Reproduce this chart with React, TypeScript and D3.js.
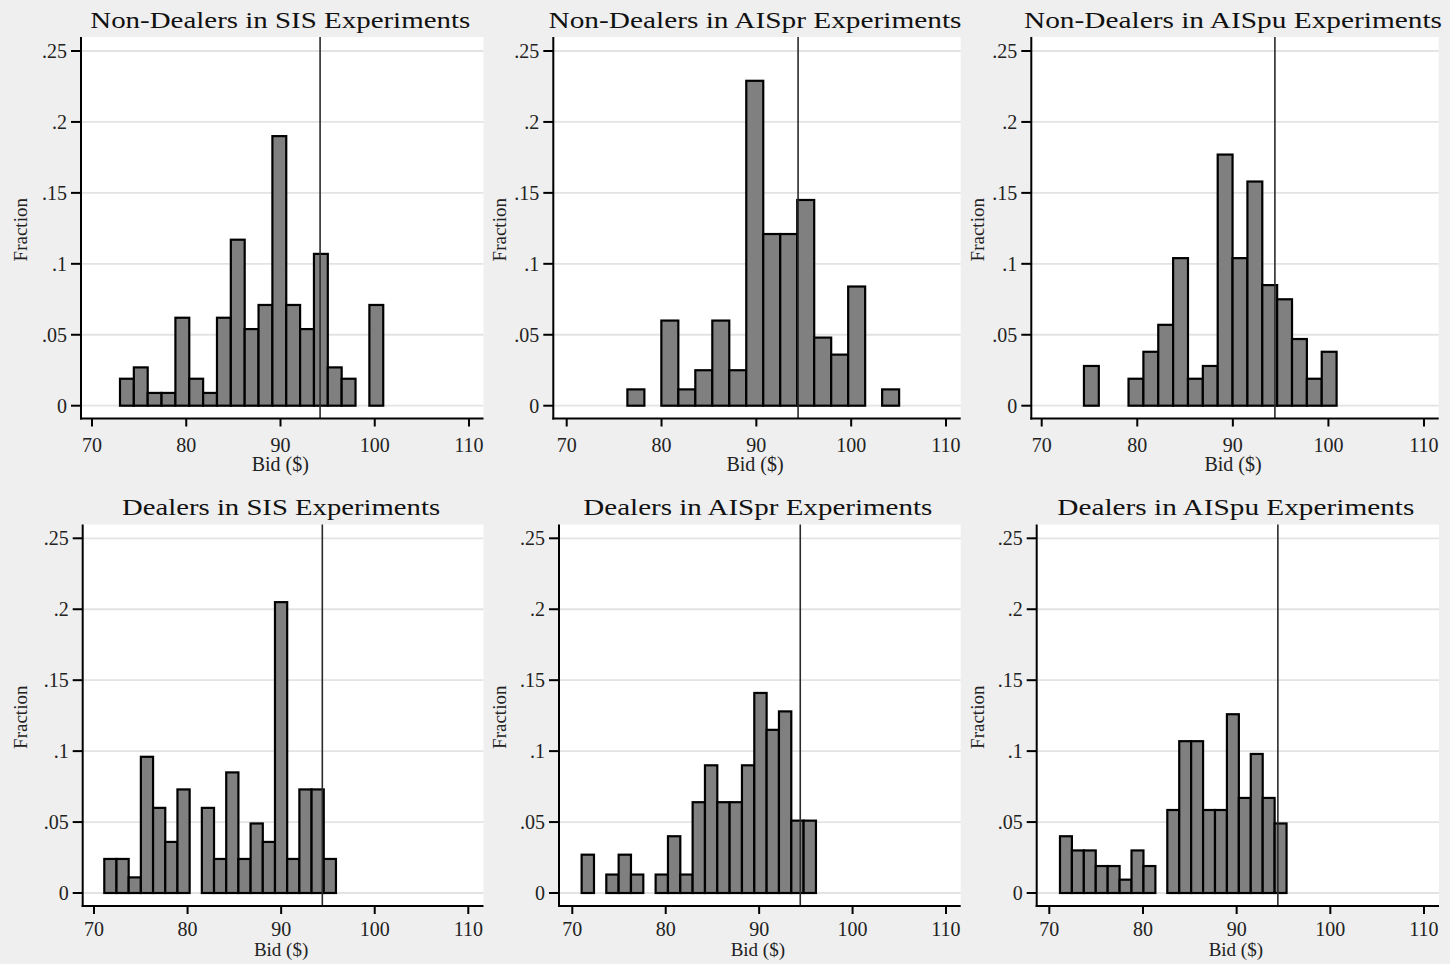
import React, { useEffect, useRef } from 'react';
import * as d3 from 'd3';

// axis ticks shared by all six histograms
const xTicks = [70, 80, 90, 100, 110];
const yTicks = [0, 0.05, 0.1, 0.15, 0.2, 0.25];
const yTickLabels = ['0', '.05', '.1', '.15', '.2', '.25'];

const titles = [
  'Non-Dealers in SIS Experiments',
  'Non-Dealers in AISpr Experiments',
  'Non-Dealers in AISpu Experiments',
  'Dealers in SIS Experiments',
  'Dealers in AISpr Experiments',
  'Dealers in AISpu Experiments',
];

// histogram bins: first bin edge and bin width ($), then fraction per bin
const binStarts = [72.97, 76.4, 74.42, 71.1, 71.0, 71.14];
const binWidths = [1.47, 1.791, 1.555, 1.303, 1.32, 1.273];

const nonDealersSIS = [0.019, 0.027, 0.009, 0.009, 0.062, 0.019, 0.009, 0.062, 0.117, 0.054, 0.071, 0.19, 0.071, 0.054, 0.107, 0.027, 0.019, 0, 0.071];
const nonDealersAISpr = [0.0115, 0, 0.06, 0.0115, 0.025, 0.06, 0.025, 0.229, 0.121, 0.121, 0.145, 0.048, 0.036, 0.084, 0, 0.0115];
const nonDealersAISpu = [0.028, 0, 0, 0.019, 0.038, 0.057, 0.104, 0.019, 0.028, 0.177, 0.104, 0.158, 0.085, 0.075, 0.047, 0.019, 0.038];
const dealersSIS = [0.024, 0.024, 0.011, 0.096, 0.06, 0.036, 0.073, 0, 0.06, 0.024, 0.085, 0.024, 0.049, 0.036, 0.205, 0.024, 0.073, 0.073, 0.024];
const dealersAISpr = [0.027, 0, 0.013, 0.027, 0.013, 0, 0.013, 0.04, 0.013, 0.064, 0.09, 0.064, 0.064, 0.09, 0.141, 0.115, 0.128, 0.051, 0.051];
const dealersAISpu = [0.04, 0.03, 0.03, 0.019, 0.019, 0.0094, 0.03, 0.019, 0, 0.0585, 0.107, 0.107, 0.0585, 0.0585, 0.126, 0.067, 0.098, 0.067, 0.049];

const series = [nonDealersSIS, nonDealersAISpr, nonDealersAISpu, dealersSIS, dealersAISpr, dealersAISpu];

// vertical reference bid
const refBids = [94.2, 94.4, 94.4, 94.4, 94.4, 94.4];

// pixel frames of each panel
const topRow = { top: 37, axisY: 418.5, y0: 405.7, y25: 51, titleY: 27.5, tickY: 451.5, bidY: 471, bidSize: 20 };
const bottomRow = { top: 524.5, axisY: 906, y0: 893, y25: 538.3, titleY: 515, tickY: 936, bidY: 956, bidSize: 19 };
const frames = [
  { ...topRow, left: 81, right: 483.5, x70: 92, x110: 469, col: 0, titleW: 380 },
  { ...topRow, left: 553.3, right: 960.7, x70: 566.7, x110: 946, col: 479, titleW: 413 },
  { ...topRow, left: 1031.3, right: 1438.7, x70: 1041.7, x110: 1424, col: 957, titleW: 418 },
  { ...bottomRow, left: 82.7, right: 483.5, x70: 94, x110: 468.3, col: 0, titleW: 318 },
  { ...bottomRow, left: 559, right: 960.7, x70: 572.3, x110: 946, col: 479, titleW: 349 },
  { ...bottomRow, left: 1036.7, right: 1439, x70: 1049.3, x110: 1424, col: 957, titleW: 357 },
];

const FONT = '"Liberation Serif", "DejaVu Serif", serif';

const Histogram = ({ frame, title, start, width, values, refBid }) => {
  const ref = useRef(null);

  useEffect(() => {
    const g = d3.select(ref.current);
    g.selectAll('*').remove();

    const x = d3.scaleLinear().domain([70, 110]).range([frame.x70, frame.x110]);
    const y = d3.scaleLinear().domain([0, 0.25]).range([frame.y0, frame.y25]);

    g.append('rect')
      .attr('x', frame.left)
      .attr('y', frame.top)
      .attr('width', frame.right - frame.left)
      .attr('height', frame.axisY - frame.top)
      .attr('fill', '#ffffff');

    g.selectAll('line.grid')
      .data(yTicks)
      .enter()
      .append('line')
      .attr('class', 'grid')
      .attr('x1', frame.left)
      .attr('x2', frame.right)
      .attr('y1', (d) => y(d))
      .attr('y2', (d) => y(d))
      .attr('stroke', '#e3e3e3')
      .attr('stroke-width', 1.8);

    const bins = values
      .map((v, i) => ({ x0: start + i * width, x1: start + (i + 1) * width, v }))
      .filter((b) => b.v > 0);

    g.selectAll('rect.bar')
      .data(bins)
      .enter()
      .append('rect')
      .attr('class', 'bar')
      .attr('x', (d) => x(d.x0))
      .attr('width', (d) => x(d.x1) - x(d.x0))
      .attr('y', (d) => y(d.v))
      .attr('height', (d) => y(0) - y(d.v))
      .attr('fill', '#808080')
      .attr('stroke', '#000')
      .attr('stroke-width', 2.2);

    g.append('line')
      .attr('x1', x(refBid))
      .attr('x2', x(refBid))
      .attr('y1', frame.top)
      .attr('y2', frame.axisY)
      .attr('stroke', '#2a2a2a')
      .attr('stroke-width', 1.6);

    // y axis
    g.append('line')
      .attr('x1', frame.left)
      .attr('x2', frame.left)
      .attr('y1', frame.top)
      .attr('y2', frame.axisY + 1)
      .attr('stroke', '#000')
      .attr('stroke-width', 2);
    g.selectAll('line.ytick')
      .data(yTicks)
      .enter()
      .append('line')
      .attr('class', 'ytick')
      .attr('x1', frame.left - 10)
      .attr('x2', frame.left)
      .attr('y1', (d) => y(d))
      .attr('y2', (d) => y(d))
      .attr('stroke', '#000')
      .attr('stroke-width', 2);
    g.selectAll('text.ylab')
      .data(yTicks)
      .enter()
      .append('text')
      .attr('class', 'ylab')
      .attr('x', frame.left - 14)
      .attr('y', (d) => y(d))
      .attr('dy', '0.34em')
      .attr('text-anchor', 'end')
      .style('font-family', FONT)
      .style('font-size', '20px')
      .style('fill', '#222')
      .text((d, i) => yTickLabels[i]);

    // x axis
    g.append('line')
      .attr('x1', frame.left - 1)
      .attr('x2', frame.right)
      .attr('y1', frame.axisY)
      .attr('y2', frame.axisY)
      .attr('stroke', '#000')
      .attr('stroke-width', 2);
    g.selectAll('line.xtick')
      .data(xTicks)
      .enter()
      .append('line')
      .attr('class', 'xtick')
      .attr('x1', (d) => x(d))
      .attr('x2', (d) => x(d))
      .attr('y1', frame.axisY)
      .attr('y2', frame.axisY + 8)
      .attr('stroke', '#000')
      .attr('stroke-width', 2);
    g.selectAll('text.xlab')
      .data(xTicks)
      .enter()
      .append('text')
      .attr('class', 'xlab')
      .attr('x', (d) => x(d))
      .attr('y', frame.tickY)
      .attr('text-anchor', 'middle')
      .style('font-family', FONT)
      .style('font-size', '20px')
      .style('fill', '#222')
      .text((d) => d);

    g.append('text')
      .attr('x', (frame.left + frame.right) / 2 - 2)
      .attr('y', frame.bidY)
      .attr('text-anchor', 'middle')
      .style('font-family', FONT)
      .style('font-size', `${frame.bidSize}px`)
      .style('fill', '#222')
      .text('Bid ($)');

    g.append('text')
      .attr('transform', `translate(${frame.col + 27},${(frame.top + frame.axisY) / 2 + 2}) rotate(-90)`)
      .attr('text-anchor', 'middle')
      .style('font-family', FONT)
      .style('font-size', '19px')
      .style('fill', '#222')
      .text('Fraction');

    g.append('text')
      .attr('x', (frame.left + frame.right) / 2 - 2)
      .attr('y', frame.titleY)
      .attr('text-anchor', 'middle')
      .attr('textLength', frame.titleW)
      .attr('lengthAdjust', 'spacingAndGlyphs')
      .style('font-family', FONT)
      .style('font-size', '24px')
      .style('fill', '#111')
      .text(title);
  }, [frame, title, start, width, values, refBid]);

  return <g ref={ref} />;
};

const App = () => {
  return (
    <svg
      width={1450}
      height={964}
      style={{ position: 'absolute', left: 0, top: 0, display: 'block', background: '#efefef' }}
    >
      <rect x={0} y={0} width={1450} height={964} fill="#efefef" />
      {frames.map((f, i) => (
        <Histogram
          key={i}
          frame={f}
          title={titles[i]}
          start={binStarts[i]}
          width={binWidths[i]}
          values={series[i]}
          refBid={refBids[i]}
        />
      ))}
    </svg>
  );
};

export default App;
